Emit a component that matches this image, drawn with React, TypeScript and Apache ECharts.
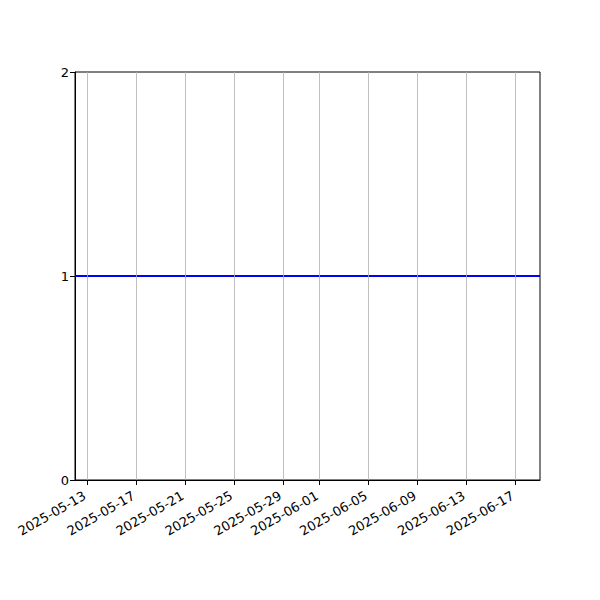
import { useEffect, useRef } from 'react';
import * as echarts from 'echarts';

// daily observations, all at 1
const dates: string[] = [
    '2025-05-12', '2025-05-13', '2025-05-14', '2025-05-15', '2025-05-16', '2025-05-17', '2025-05-18',
    '2025-05-19', '2025-05-20', '2025-05-21', '2025-05-22', '2025-05-23', '2025-05-24', '2025-05-25',
    '2025-05-26', '2025-05-27', '2025-05-28', '2025-05-29', '2025-05-30', '2025-05-31', '2025-06-01',
    '2025-06-02', '2025-06-03', '2025-06-04', '2025-06-05', '2025-06-06', '2025-06-07', '2025-06-08',
    '2025-06-09', '2025-06-10', '2025-06-11', '2025-06-12', '2025-06-13', '2025-06-14', '2025-06-15',
    '2025-06-16', '2025-06-17', '2025-06-18', '2025-06-19'
];
const values: number[] = [
    1, 1, 1, 1, 1, 1, 1, 1, 1, 1, 1, 1, 1, 1, 1, 1, 1, 1, 1, 1,
    1, 1, 1, 1, 1, 1, 1, 1, 1, 1, 1, 1, 1, 1, 1, 1, 1, 1, 1
];
const tickDates: string[] = [
    '2025-05-13', '2025-05-17', '2025-05-21', '2025-05-25', '2025-05-29',
    '2025-06-01', '2025-06-05', '2025-06-09', '2025-06-13', '2025-06-17'
];
const yTicks: number[] = [0, 1, 2];

const toTs = (d: string) => {
    const [y, m, day] = d.split('-').map(Number);
    return new Date(y, m - 1, day).getTime();
};
const pad = (n: number) => (n < 10 ? '0' + n : '' + n);
const fmt = (v: number) => {
    const d = new Date(v);
    return `${d.getFullYear()}-${pad(d.getMonth() + 1)}-${pad(d.getDate())}`;
};

const App = () => {
    const chartRef = useRef<HTMLDivElement>(null);

    useEffect(() => {
        if (!chartRef.current) return;
        const chart = echarts.init(chartRef.current, null, { renderer: 'svg' });
        const tickTs = tickDates.map(toTs);
        const font = 'DejaVu Sans';

        chart.setOption({
            animation: false,
            backgroundColor: '#ffffff',
            textStyle: { fontFamily: font },
            grid: {
                left: 75,
                right: 60,
                top: 72,
                bottom: 120,
                show: true,
                borderColor: '#000000',
                borderWidth: 1,
                backgroundColor: 'transparent'
            },
            xAxis: {
                type: 'value',
                min: toTs(dates[0]),
                max: toTs(dates[dates.length - 1]),
                axisLine: { show: true, onZero: false, lineStyle: { color: '#000', width: 1 } },
                axisTick: {
                    show: true,
                    inside: false,
                    customValues: tickTs,
                    length: 5,
                    lineStyle: { color: '#000', width: 1 }
                },
                axisLabel: {
                    customValues: tickTs,
                    rotate: 30,
                    formatter: (v: number) => fmt(v),
                    color: '#000',
                    fontSize: 13,
                    fontFamily: font,
                    margin: 13,
                    padding: [0, 3, 0, 0],
                    hideOverlap: false
                },
                splitLine: { show: false }
            },
            yAxis: {
                type: 'value',
                min: yTicks[0],
                max: yTicks[yTicks.length - 1],
                interval: 1,
                axisLine: { show: true, lineStyle: { color: '#000', width: 1 } },
                axisTick: { show: true, inside: false, length: 5, lineStyle: { color: '#000', width: 1 } },
                axisLabel: { color: '#000', fontSize: 13, fontFamily: font, margin: 6 },
                splitLine: { show: false }
            },
            series: [
                {
                    type: 'line',
                    data: dates.map((d, i) => [toTs(d), values[i]]),
                    showSymbol: false,
                    symbol: 'none',
                    lineStyle: { color: '#0000ff', width: 2 },
                    z: 3,
                    markLine: {
                        silent: true,
                        symbol: ['none', 'none'],
                        label: { show: false },
                        lineStyle: { color: '#b0b0b0', width: 0.8, type: 'solid' },
                        data: tickTs.map(t => ({ xAxis: t }))
                    }
                }
            ]
        });

        return () => {
            chart.dispose();
        };
    }, []);

    return (
        <div
            ref={chartRef}
            style={{ position: 'fixed', left: 0, top: 0, width: 600, height: 600 }}
        />
    );
};

export default App;
